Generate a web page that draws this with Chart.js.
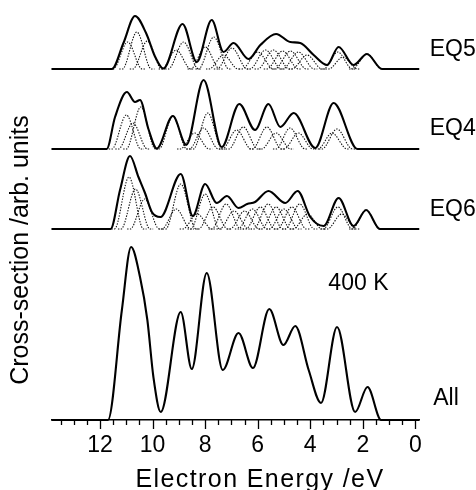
<!DOCTYPE html>
<html>
<head>
<meta charset="utf-8">
<script src="https://cdn.jsdelivr.net/npm/chart.js@4.4.0/dist/chart.umd.min.js"></script>
<style>
  html, body { margin: 0; padding: 0; background: #fff; }
</style>
</head>
<body>
<canvas id="chart" width="476" height="490"></canvas>
<script>
// spectra, [energy /eV, intensity] going left to right
const eq5Curve = [[13.85,0],[11.55,0],[11.11,26],[10.67,53],[10.25,36],[9.9,12],[9.59,0.5],[8.86,45],[8.32,7],[7.75,49],[7.3,17],[6.92,26],[6.35,10],[5.9,24],[5.3,35],[4.76,27],[4.38,26],[3.87,14],[3.36,4],[2.92,22],[2.35,4],[1.84,15],[1.27,0],[-0.15,0]];
const eq4Curve = [[13.85,0],[11.75,0],[11.43,32],[10.98,57],[10.67,47],[10.48,49],[10.16,20],[9.84,0.5],[9.23,33],[8.72,4],[8.06,69],[7.37,2],[6.7,45],[6.1,19],[5.59,45],[5.14,22],[4.63,36],[3.81,1],[3.11,46],[2.2,0],[-0.15,0]];
const eq6Curve = [[13.85,0],[11.6,0],[11.24,39],[10.86,73],[10.54,52],[10.29,36],[10.03,17],[9.7,12],[8.93,55],[8.47,13],[8.0,45],[7.56,26],[7.17,33],[6.73,21],[6.4,25],[6.1,27],[5.59,38],[4.95,26],[4.48,38],[4.0,12],[3.49,3],[2.92,31],[2.35,3],[1.87,19],[1.35,0],[-0.15,0]];
const allCurve = [[13.85,0],[11.7,0],[11.17,110],[10.82,173],[10.48,143],[10.2,100],[9.97,43],[9.69,8],[8.93,108],[8.51,51],[7.94,147],[7.33,50],[6.73,87],[6.18,52],[5.56,111],[5.02,75],[4.57,94],[4.06,50],[3.59,17],[2.98,93],[2.29,8],[1.82,33],[1.3,0],[-0.15,0]];

// dotted components: [left foot, peak, right foot, height]
const eq5Comps = [[11.5,10.95,10.4,27],[11.15,10.6,10.05,37],[10.75,10.2,9.65,28],[9.65,9.1,8.55,19],[9.4,8.82,8.25,27],[8.55,8.0,7.45,22],[8.25,7.67,7.1,32],[7.85,7.3,6.75,14],[7.55,6.98,6.4,21],[6.6,6.0,5.4,17],[6.3,5.7,5.1,19],[6.0,5.4,4.8,19],[5.65,5.05,4.45,18],[5.35,4.75,4.15,18],[5.05,4.45,3.85,17],[4.7,4.12,3.55,14],[3.5,2.95,2.4,17],[3.3,2.75,2.2,12],[2.4,1.84,1.28,15]];
const eq4Comps = [[11.55,11.0,10.45,34],[11.3,10.75,10.2,26],[11.0,10.45,9.9,42],[9.75,9.23,8.7,33],[8.95,8.4,7.85,16],[8.6,8.06,7.5,21],[8.45,7.9,7.35,36],[7.35,6.8,6.25,19],[7.1,6.55,6.0,22],[6.2,5.65,5.1,22],[5.85,5.3,4.75,16],[5.3,4.77,4.2,21],[5.0,4.45,3.9,16],[3.7,3.17,2.6,16],[3.55,2.98,2.4,20]];
const eq6Comps = [[11.45,10.9,10.35,52],[11.2,10.65,10.1,40],[10.85,10.3,9.75,30],[9.65,9.1,8.55,20],[9.5,8.93,8.35,45],[8.85,8.3,7.75,15],[8.55,8.0,7.45,35],[8.25,7.7,7.15,22],[7.75,7.2,6.65,25],[7.45,6.9,6.35,18],[7.05,6.5,5.95,18],[6.75,6.2,5.65,20],[6.45,5.9,5.35,22],[6.15,5.6,5.05,25],[5.85,5.3,4.75,22],[5.55,5.0,4.45,20],[5.25,4.7,4.15,22],[4.95,4.4,3.85,25],[4.65,4.1,3.55,15],[3.5,2.95,2.4,22],[3.35,2.8,2.25,15],[2.4,1.87,1.35,19]];

const panelNames = ['EQ5', 'EQ4', 'EQ6', 'All'];
const xMajor = [12, 10, 8, 6, 4, 2, 0];
const xTickLabels = ['12', '10', '8', '6', '4', '2', '0'];
const tempLabel = '400 K';
const xTitle = 'Electron Energy /eV';
const yTitle = 'Cross-section /arb. units';

// vertical offsets of the stacked panels
const base = { EQ5: 351, EQ4: 271, EQ6: 191, All: 0 };
const FAMILY = '"Liberation Sans", Arial, Helvetica, sans-serif';

function mainSet(curve, off) {
  return {
    data: curve.map(p => ({ x: p[0], y: p[1] + off })),
    borderColor: '#000', borderWidth: 2.1,
    pointRadius: 0, cubicInterpolationMode: 'monotone', clip: false
  };
}
function compSet(c, off) {
  const [l, pk, r, h] = c;
  return {
    data: [{ x: l + 0.12, y: off }, { x: l, y: off }, { x: pk, y: off + h }, { x: r, y: off }, { x: r - 0.12, y: off }],
    borderColor: '#111', borderWidth: 1.1, borderDash: [1.4, 1.4],
    pointRadius: 0, cubicInterpolationMode: 'monotone', clip: false
  };
}

const datasets = [
  mainSet(eq5Curve, base.EQ5),
  mainSet(eq4Curve, base.EQ4),
  mainSet(eq6Curve, base.EQ6),
  mainSet(allCurve, base.All)
];
eq5Comps.forEach(c => datasets.push(compSet(c, base.EQ5)));
eq4Comps.forEach(c => datasets.push(compSet(c, base.EQ4)));
eq6Comps.forEach(c => datasets.push(compSet(c, base.EQ6)));

// minor ticks every 0.5, longer ones at the labelled values
const tickMarks = {
  id: 'tickMarks',
  afterDraw(chart) {
    const x = chart.scales.x, ctx = chart.ctx, y0 = chart.chartArea.bottom;
    ctx.save();
    ctx.strokeStyle = '#000';
    ctx.lineWidth = 1.3;
    x.ticks.forEach(t => {
      const v = t.value;
      const len = xMajor.includes(v) ? 9 : 5;
      const px = Math.round(x.getPixelForValue(v)) + 0.5;
      ctx.beginPath();
      ctx.moveTo(px, y0);
      ctx.lineTo(px, y0 + len);
      ctx.stroke();
    });
    ctx.restore();
  }
};

const textLabels = {
  id: 'textLabels',
  afterDraw(chart) {
    const { ctx } = chart;
    const x = chart.scales.x, y = chart.scales.y;
    ctx.save();
    ctx.fillStyle = '#000';
    ctx.font = '23px ' + FAMILY;
    ctx.textBaseline = 'alphabetic';
    ctx.textAlign = 'left';
    const ly = [364, 285, 204, 15];
    panelNames.forEach((n, i) => ctx.fillText(n, x.getPixelForValue(i === 3 ? -0.68 : -0.55), y.getPixelForValue(ly[i])));
    ctx.fillText(tempLabel, x.getPixelForValue(3.31), y.getPixelForValue(130));
    ctx.font = '25px ' + FAMILY;
    ctx.textAlign = 'center';
    ctx.letterSpacing = '1.4px';
    ctx.fillText(xTitle, 260, 487);
    ctx.letterSpacing = '0px';
    ctx.translate(28, 250);
    ctx.rotate(-Math.PI / 2);
    ctx.fillText(yTitle, 0, 0);
    ctx.restore();
  }
};

new Chart(document.getElementById('chart'), {
  type: 'line',
  data: { datasets },
  options: {
    responsive: false,
    animation: false,
    events: [],
    layout: { padding: { left: 52, right: 57, top: 0, bottom: 0 } },
    plugins: { legend: { display: false }, tooltip: { enabled: false } },
    scales: {
      x: {
        type: 'linear', reverse: true, min: -0.14, max: 13.83,
        afterFit: s => { s.height = 70; },
        afterBuildTicks: s => {
          const t = [];
          for (let v = 0; v <= 13.5; v += 0.5) t.push({ value: v });
          s.ticks = t;
        },
        grid: { display: false, drawTicks: false },
        border: { display: true, color: '#000', width: 1.5 },
        ticks: {
          autoSkip: false, maxRotation: 0, padding: 12,
          color: '#000', font: { size: 23, family: FAMILY },
          callback: v => { const i = xMajor.indexOf(v); return i < 0 ? '' : xTickLabels[i]; }
        }
      },
      y: { type: 'linear', display: false, min: 0, max: 420 }
    }
  },
  plugins: [tickMarks, textLabels]
});
</script>
</body>
</html>
